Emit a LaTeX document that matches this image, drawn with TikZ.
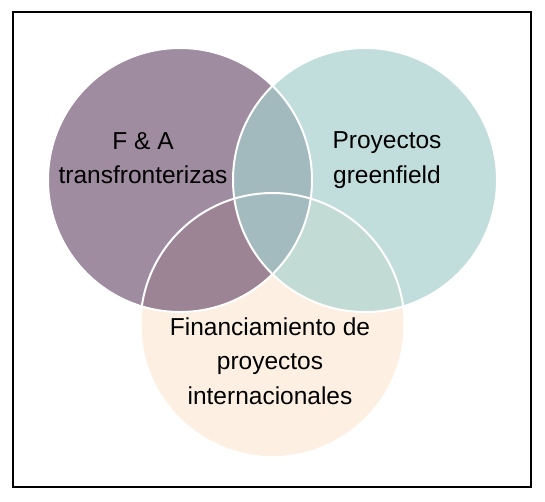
\documentclass[tikz,border=0pt]{standalone}
\usepackage{fontspec}
\setmainfont{Liberation Sans}
\definecolor{cL}{HTML}{A08CA0}
\definecolor{cR}{HTML}{C2DEDC}
\definecolor{cB}{HTML}{FDF0E3}
\definecolor{cLR}{HTML}{A2BABD}
\definecolor{cLB}{HTML}{9C8494}
\definecolor{cRB}{HTML}{C3DBD5}
\definecolor{cLRB}{HTML}{A3BBBE}
\tikzset{
  lbl/.style={align=center, font=\fontsize{24.5}{34.5}\selectfont, text=black, inner sep=0pt},
  ring/.style={draw=white, line width=2pt}
}
\begin{document}
\begin{tikzpicture}[x=1pt,y=-1pt]
\useasboundingbox (0,0) rectangle (545,501);
\fill[white] (0,0) rectangle (545,501);
\def\Lc{(180,180) circle (132)}
\def\Rc{(365,180) circle (132)}
\def\Bc{(272.5,325) circle (132)}
\fill[cL] \Lc;
\fill[cR] \Rc;
\fill[cB] \Bc;
\begin{scope}
  \clip \Lc; \fill[cLR] \Rc;
\end{scope}
\begin{scope}
  \clip \Lc; \fill[cLB] \Bc;
\end{scope}
\begin{scope}
  \clip \Rc; \fill[cRB] \Bc;
\end{scope}
\begin{scope}
  \clip \Lc; \clip \Rc; \fill[cLRB] \Bc;
\end{scope}
\draw[ring] \Lc;
\draw[ring] \Rc;
\draw[ring] \Bc;
\node[lbl] (fa) at (143,158) {F \& A\\transfronterizas};
\node[lbl] (pg) at (387,160) {Proyectos\\greenfield};
\node[lbl] (fp) at (270,361) {Financiamiento de\\proyectos\\internacionales};
\draw[black, line width=1.5pt] (13,12) rectangle (531,487);
\end{tikzpicture}
\end{document}
